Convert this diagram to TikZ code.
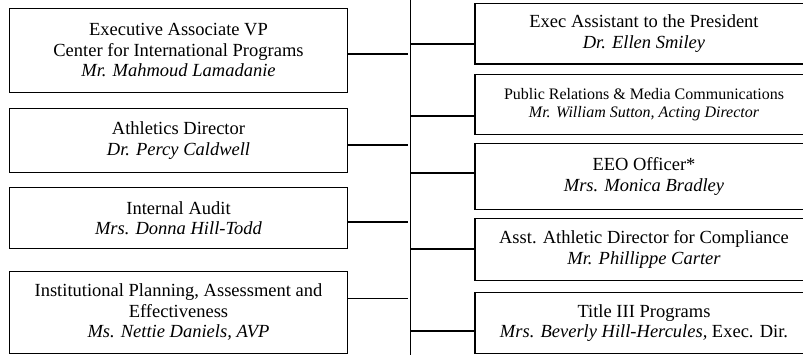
\documentclass[tikz,border=0pt]{standalone}
\usepackage{fontspec}
\setmainfont{Liberation Serif}
\begin{document}
\begin{tikzpicture}[x=1pt,y=-1pt,
  box/.style={draw=black,line width=1.9pt,inner sep=0pt,minimum width=338pt,align=center,
    font=\fontsize{18.5}{20.5}\selectfont},
  smallbox/.style={box,font=\fontsize{16}{17.5}\selectfont},
  conn/.style={draw=black,line width=1.7pt}]
\useasboundingbox (0,0) rectangle (803,355);
\clip (0,0) rectangle (803,355);
% left boxes
\node[box,minimum height=84pt] (L1) at (178.5,50.5) {Executive Associate VP\\Center for International Programs\\\textit{Mr. Mahmoud Lamadanie}};
\node[box,minimum height=64pt] (L2) at (178.5,140.5) {Athletics Director\\\textit{Dr. Percy Caldwell}};
\node[box,minimum height=61pt] (L3) at (178.5,218) {Internal Audit\\\textit{Mrs. Donna Hill-Todd}};
\node[box,minimum height=82pt] (L4) at (178.5,312.5) {Institutional Planning, Assessment and\\Effectiveness\\\textit{Ms. Nettie Daniels, AVP}};
% right boxes
\node[box,minimum height=60.5pt] (R1) at (644,33.75) {Exec Assistant to the President\\\textit{Dr. Ellen Smiley}};
\node[smallbox,minimum height=60pt] (R2) at (644,104.5) {Public Relations \& Media Communications\\\textit{Mr. William Sutton, Acting Director}};
\node[box,minimum height=66pt] (R3) at (644,176.5) {EEO Officer*\\\textit{Mrs. Monica Bradley}};
\node[box,minimum height=62pt] (R4) at (644,249.5) {Asst. Athletic Director for Compliance\\\textit{Mr. Phillippe Carter}};
\node[box,minimum height=61pt] (R5) at (644,323) {Title III Programs\\\textit{Mrs. Beverly Hill-Hercules,} Exec. Dir.};
% trunk
\coordinate (top) at (410.5,-2);
\coordinate (bot) at (410.5,357);
\draw[conn] (top) -- (bot);
% left stubs
\coordinate (l1) at (407.5,54);
\coordinate (l2) at (407.5,145);
\coordinate (l3) at (407.5,222);
\coordinate (l4) at (407.5,298.5);
\foreach \n in {1,2,3,4}{\draw[conn] (L\n.east |- l\n) -- (l\n);}
% right stubs
\coordinate (r1) at (410.5,44);
\coordinate (r2) at (410.5,116);
\coordinate (r3) at (410.5,173);
\coordinate (r4) at (410.5,249);
\coordinate (r5) at (410.5,331);
\foreach \n in {1,...,5}{\draw[conn] (r\n) -- (r\n -| R\n.west);}
\end{tikzpicture}
\end{document}
